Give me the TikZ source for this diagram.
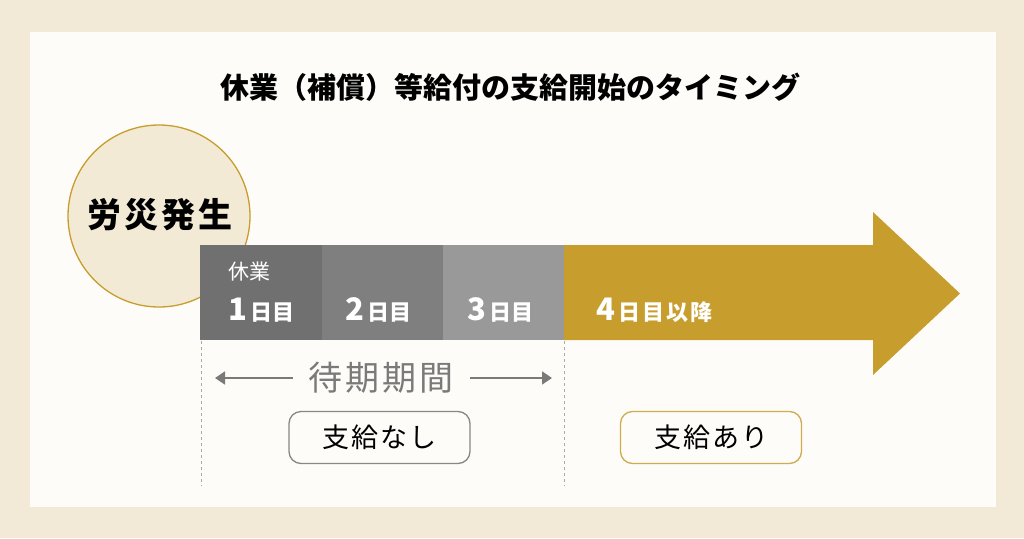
\documentclass[tikz,border=0pt]{standalone}
\usepackage{fontspec}
\newfontfamily\jp{Noto Sans CJK JP}
\usetikzlibrary{arrows.meta}
\definecolor{outerbg}{HTML}{F2E9D6}
\definecolor{panel}{HTML}{FDFCF8}
\definecolor{gold}{HTML}{C79D2E}
\definecolor{circfill}{HTML}{F3EAD6}
\definecolor{dayA}{HTML}{707070}
\definecolor{dayB}{HTML}{7F7F7F}
\definecolor{dayC}{HTML}{999999}
\definecolor{waitgray}{HTML}{7A7A7A}
\definecolor{dashgray}{HTML}{AAAAAA}
\tikzset{
  daytext/.style={text=white, font=\jp\bfseries, inner sep=0pt, anchor=base west},
  paybox/.style={draw, line width=1.3pt, rounded corners=12pt, fill=panel, minimum width=181pt, minimum height=52pt, font=\jp\fontsize{27}{30}\selectfont, text=black},
  guide/.style={draw=dashgray, dashed, line width=0.8pt},
  waitarrow/.style={draw=waitgray, line width=1.6pt, -{Triangle[length=10pt,width=13pt]}}
}
\newcommand{\dnum}[1]{{\fontsize{31}{34}\selectfont #1}}
\newcommand{\dsuf}[1]{{\fontsize{22}{24}\selectfont\hspace{3pt}#1}}
\begin{document}
\begin{tikzpicture}[x=1pt,y=-1pt]
\useasboundingbox (0,0) rectangle (1024,538);
\fill[outerbg] (0,0) rectangle (1024,538);
\fill[panel] (30,32) rectangle (996,507);
% title
\node[font=\jp\bfseries\fontsize{29}{32}\selectfont, text=black] (title) at (510,87) {休業（補償）等給付の支給開始のタイミング};
% circle
\node[circle, draw=gold, line width=1.3pt, fill=circfill, minimum size=182pt, inner sep=0pt] (event) at (159,216) {};
\node[font=\jp\bfseries\fontsize{34}{36}\selectfont, text=black] (eventtext) at (160,215) {労\hspace{3pt}災\hspace{3pt}発\hspace{3pt}生};
% gold arrow
\fill[gold] (564,245) -- (873,245) -- (873,212) -- (960,293.5) -- (873,375) -- (873,340) -- (564,340) -- cycle;
% day boxes
\fill[dayA] (200,245) rectangle (322,340);
\fill[dayB] (322,245) rectangle (443,340);
\fill[dayC] (443,245) rectangle (564,340);
\node[text=white, font=\jp\fontsize{21}{24}\selectfont, anchor=west, inner sep=0pt] (rest) at (228,272) {休業};
\node[daytext] (day1) at (228,320) {\dnum{1}\dsuf{日目}};
\node[daytext] (day2) at (345,320) {\dnum{2}\dsuf{日目}};
\node[daytext] (day3) at (467,320) {\dnum{3}\dsuf{日目}};
\node[daytext] (day4) at (596,320) {\dnum{4}\dsuf{日\hspace{2pt}目\hspace{2pt}以\hspace{2pt}降}};
% guides
\coordinate (gA1) at (201,341);
\coordinate (gA2) at (201,486);
\coordinate (gB1) at (564,341);
\coordinate (gB2) at (564,486);
\draw[guide] (gA1) -- (gA2);
\draw[guide] (gB1) -- (gB2);
% waiting period
\node[text=waitgray, font=\jp\fontsize{34}{36}\selectfont, inner sep=0pt] (wait) at (381,378) {待\hspace{3pt}期\hspace{3pt}期\hspace{3pt}間};
\coordinate (wl) at (215,378);
\coordinate (wr) at (552,378);
\coordinate (wls) at (293,378);
\coordinate (wrs) at (470,378);
\draw[waitarrow] (wls) -- (wl);
\draw[waitarrow] (wrs) -- (wr);
% pay boxes
\node[paybox, draw=waitgray!90] (nopay) at (379.5,437.5) {支\hspace{2pt}給\hspace{2pt}な\hspace{2pt}し};
\node[paybox, draw=gold!85] (pay) at (711,437.5) {支\hspace{2pt}給\hspace{2pt}あ\hspace{2pt}り};
\end{tikzpicture}
\end{document}
